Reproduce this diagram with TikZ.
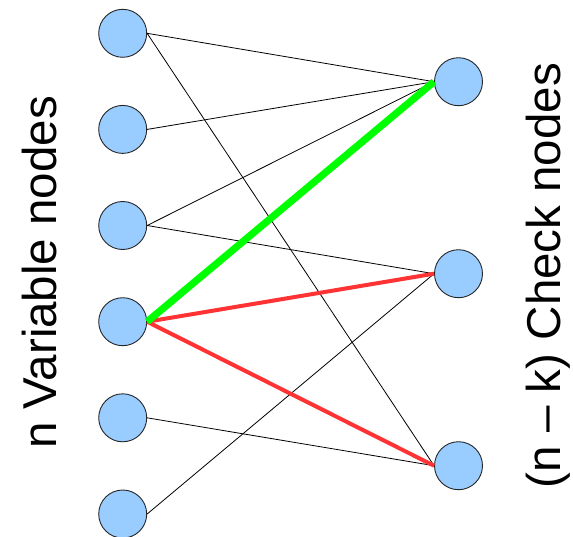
\documentclass[tikz,border=0pt]{standalone}
\usepackage{fontspec}
\setmainfont{Liberation Sans}
\begin{document}
\begin{tikzpicture}[x=1pt,y=-1pt,
  vnode/.style={circle,draw=black!85,line width=0.9pt,fill={rgb,255:red,153;green,204;blue,255},minimum size=48pt,inner sep=0pt},
  thin edge/.style={draw=black,line width=0.8pt},
  red edge/.style={draw={rgb,255:red,255;green,51;blue,51},line width=4pt},
  green edge/.style={draw={rgb,255:red,0;green,255;blue,0},line width=7.2pt},
  label text/.style={font=\fontsize{47.5}{50}\selectfont,rotate=90,anchor=base,inner sep=0pt}]
\useasboundingbox (0,0) rectangle (573,536);
\begin{scope}
\clip (0,0) rectangle (573,536);
\node[vnode] (v1) at (122.7,33.3) {};
\node[vnode] (v2) at (122.7,129.4) {};
\node[vnode] (v3) at (122.7,225.5) {};
\node[vnode] (v4) at (122.7,321.7) {};
\node[vnode] (v5) at (122.7,417.8) {};
\node[vnode] (v6) at (122.7,514) {};
\node[vnode] (c1) at (458.5,81.7) {};
\node[vnode] (c2) at (458.5,273.7) {};
\node[vnode] (c3) at (458.5,465.7) {};
\draw[thin edge] (v1.east) -- (c1.west);
\draw[thin edge] (v1.east) -- (c3.west);
\draw[thin edge] (v2.east) -- (c1.west);
\draw[thin edge] (v3.east) -- (c1.west);
\draw[thin edge] (v3.east) -- (c2.west);
\draw[thin edge] (v5.east) -- (c3.west);
\draw[thin edge] (v6.east) -- (c2.west);
\draw[red edge] (v4.east) -- (c2.west);
\draw[red edge] (v4.east) -- (c3.west);
\draw[green edge] (v4.east) -- (c1.west);
\end{scope}
\node[label text] (lv) at (56,272.5) {n Variable nodes};
\node[label text] (lc) at (560,275.5) {(n – k) Check nodes};
\end{tikzpicture}
\end{document}
